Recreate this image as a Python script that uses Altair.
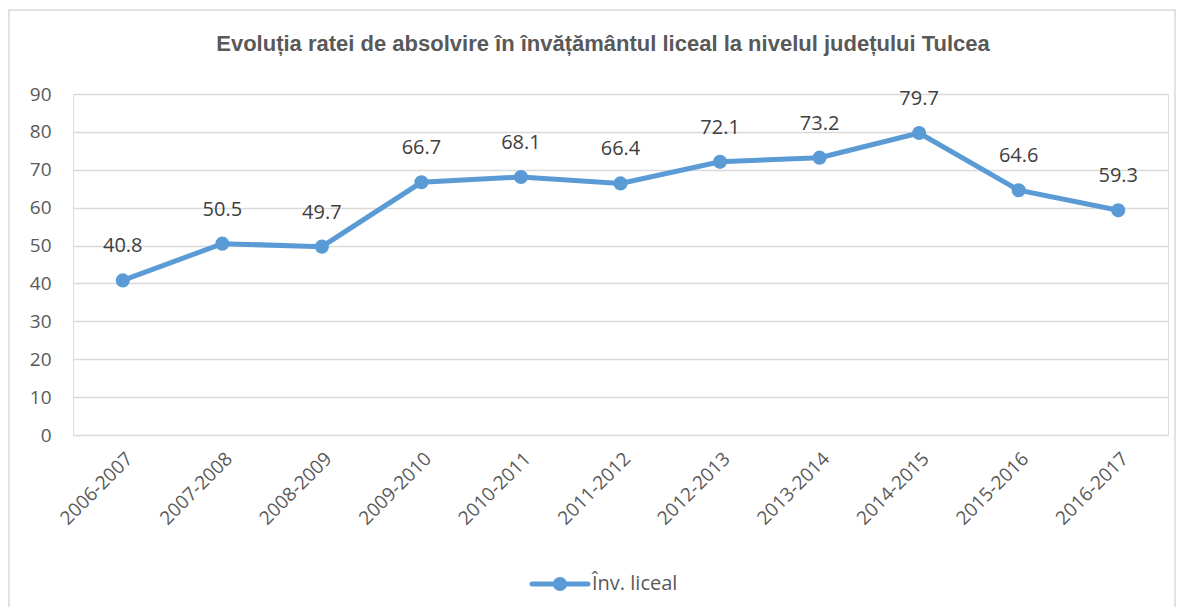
import altair as alt
import pandas as pd

years = ["2006-2007", "2007-2008", "2008-2009", "2009-2010", "2010-2011", "2011-2012",
         "2012-2013", "2013-2014", "2014-2015", "2015-2016", "2016-2017"]
values = [40.8, 50.5, 49.7, 66.7, 68.1, 66.4, 72.1, 73.2, 79.7, 64.6, 59.3]
series_name = "Înv. liceal"
title_text = "Evoluția ratei de absolvire în învățământul liceal la nivelul județului Tulcea"

df = pd.DataFrame({"an": years, "rata": values})
one = pd.DataFrame({"k": [0]})

BLUE = "#5b9bd5"
GREY = "#595959"
FONT = "Open Sans"

x = alt.X("an:N", sort=years, title=None,
          scale=alt.Scale(paddingInner=0, paddingOuter=0.5),
          axis=alt.Axis(labelAngle=-45, labelFontSize=19, labelColor=GREY, labelFont=FONT,
                        domain=False, ticks=False, grid=False, labelPadding=14))
y = alt.Y("rata:Q", title=None,
          scale=alt.Scale(domain=[0, 90], nice=False),
          axis=alt.Axis(values=list(range(0, 91, 10)), labelFontSize=19, labelColor=GREY,
                        labelFont=FONT, domain=False, ticks=False, grid=True,
                        gridColor="#d9d9d9", gridWidth=1.5, labelPadding=22))

base = alt.Chart(df)
line = base.mark_line(color=BLUE, strokeWidth=5).encode(x=x, y=y)
pts = base.mark_point(filled=True, color=BLUE, size=200, opacity=1).encode(x=x, y=y)
labels = base.mark_text(fontSize=20, color="#404040", font=FONT, dy=-34).encode(
    x=x, y=y, text=alt.Text("rata:Q", format=".1f"))

border = alt.Chart(one).mark_rect(fill=None, stroke="#d9d9d9", strokeWidth=1.5).encode(
    x=alt.value(-64), x2=alt.value(1102), y=alt.value(-84), y2=alt.value(530))

title = alt.Chart(one).mark_text(fontSize=22, fontWeight="bold", font="Liberation Sans",
                                 color=GREY, align="center", baseline="alphabetic").encode(
    x=alt.value(530), y=alt.value(-43), text=alt.value(title_text))

leg_line = alt.Chart(one).mark_rule(color=BLUE, strokeWidth=5, strokeCap="round").encode(
    x=alt.value(459), x2=alt.value(515), y=alt.value(490))
leg_pt = alt.Chart(one).mark_point(filled=True, color=BLUE, size=200, opacity=1).encode(
    x=alt.value(487), y=alt.value(490))
leg_txt = alt.Chart(one).mark_text(fontSize=20, font=FONT, color=GREY, align="left",
                                   baseline="middle").encode(
    x=alt.value(519), y=alt.value(490), text=alt.value(series_name))

chart = alt.layer(border, line, pts, labels, title, leg_line, leg_pt, leg_txt).properties(
    width=1095, height=341,
    autosize=alt.AutoSizeParams(type="none"),
    padding={"left": 65, "top": 86, "right": 8, "bottom": 172},
).configure_view(stroke=None).configure(background="white")

chart.save("out.html", embed_options={"renderer": "svg", "actions": False})
